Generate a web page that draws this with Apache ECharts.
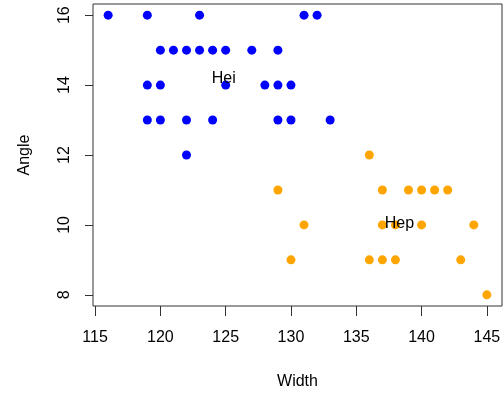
<!DOCTYPE html>
<html>
<head>
<meta charset="utf-8">
<script src="https://cdn.jsdelivr.net/npm/echarts@6/dist/echarts.min.js"></script>
<style>
  html, body { margin: 0; padding: 0; background: #fff; }
  #chart { width: 504px; height: 395px; }
</style>
</head>
<body>
<div id="chart"></div>
<script>
// Hei group (blue)
const heiWidth = [116, 119, 123, 131, 132,
  120, 121, 122, 123, 124, 125, 127, 129,
  119, 120, 125, 128, 129, 130,
  119, 120, 122, 124, 129, 130, 133,
  122]
const heiAngle = [16, 16, 16, 16, 16,
  15, 15, 15, 15, 15, 15, 15, 15,
  14, 14, 14, 14, 14, 14,
  13, 13, 13, 13, 13, 13, 13,
  12]

// Hep group (orange)
const hepWidth = [136,
  129, 137, 139, 140, 141, 142,
  131, 137, 138, 140, 144,
  130, 136, 137, 138, 143,
  145]
const hepAngle = [12,
  11, 11, 11, 11, 11, 11,
  10, 10, 10, 10, 10,
  9, 9, 9, 9, 9,
  8]

// group labels drawn on the plot
const groupNames = ['Hei', 'Hep']
const groupLabelX = [124.85, 138.3]
const groupLabelY = [14.18, 10.03]

const xTicks = [115, 120, 125, 130, 135, 140, 145]
const yTicks = [8, 10, 12, 14, 16]

const font = "'Liberation Sans', Arial, sans-serif"

const pairs = (xs, ys) => xs.map((x, i) => [x, ys[i]])

const chart = echarts.init(document.getElementById('chart'))

const option = {
  animation: false,
  textStyle: { fontFamily: font },
  grid: {
    left: 93,
    right: 2,
    top: 4,
    bottom: 85,
    show: true,
    borderColor: '#333',
    borderWidth: 1
  },
  xAxis: {
    type: 'value',
    min: 114.84,
    max: 146.16,
    name: 'Width',
    nameLocation: 'middle',
    nameGap: 68,
    nameTextStyle: { fontSize: 16, color: '#000', fontFamily: font },
    axisLine: { show: false },
    splitLine: { show: false },
    axisTick: {
      show: true,
      length: 10,
      customValues: xTicks,
      lineStyle: { color: '#333' }
    },
    axisLabel: {
      customValues: xTicks,
      margin: 24,
      fontSize: 16,
      color: '#000',
      fontFamily: font
    }
  },
  yAxis: {
    type: 'value',
    min: 7.68,
    max: 16.32,
    name: 'Angle',
    nameLocation: 'middle',
    nameGap: 60,
    nameTextStyle: { fontSize: 16, color: '#000', fontFamily: font },
    axisLine: { show: false },
    splitLine: { show: false },
    axisTick: {
      show: true,
      length: 8,
      customValues: yTicks,
      lineStyle: { color: '#333' }
    },
    axisLabel: {
      customValues: yTicks,
      rotate: 90,
      margin: 20,
      fontSize: 16,
      color: '#000',
      fontFamily: font
    }
  },
  series: [
    {
      name: 'Hei',
      type: 'scatter',
      symbolSize: 9,
      itemStyle: { color: '#0000ff', opacity: 1 },
      data: pairs(heiWidth, heiAngle)
    },
    {
      name: 'Hep',
      type: 'scatter',
      symbolSize: 9,
      itemStyle: { color: '#ffa500', opacity: 1 },
      data: pairs(hepWidth, hepAngle)
    },
    {
      name: 'labels',
      type: 'scatter',
      symbolSize: 0,
      z: 10,
      silent: true,
      itemStyle: { opacity: 1 },
      label: {
        show: true,
        position: 'inside',
        formatter: p => p.value[2],
        fontSize: 16,
        color: '#000',
        textBorderWidth: 0,
        fontFamily: font
      },
      data: groupNames.map((n, i) => [groupLabelX[i], groupLabelY[i], n])
    }
  ]
}

chart.setOption(option)
</script>
</body>
</html>
